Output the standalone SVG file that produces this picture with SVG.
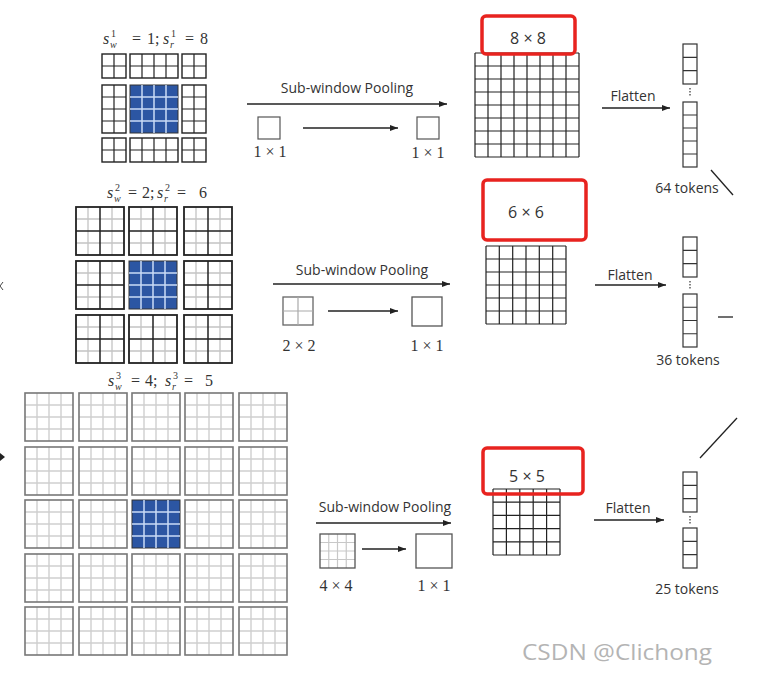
<svg xmlns="http://www.w3.org/2000/svg" xmlns:xlink="http://www.w3.org/1999/xlink" width="782" height="685" viewBox="0 0 782 685">
<style>
.sans{font-family:"Open Sans","Liberation Sans",sans-serif;fill:#333}
.ser{font-family:"Liberation Serif","DejaVu Serif",serif;fill:#333}
.it{font-style:italic}
.bk{fill:#fff;stroke:#222;stroke-width:1.4}
.gl{fill:none;stroke:#222;stroke-width:1.2}
.ln{fill:none;stroke:#222;stroke-width:1.3}
.red{fill:none;stroke:#e8231f;stroke-width:3.5}
.tok{fill:#fff;stroke:#333;stroke-width:1.2}
</style>
<defs>
<marker id="ah" markerUnits="userSpaceOnUse" markerWidth="8" markerHeight="6" refX="8" refY="3" orient="auto"><path d="M0 0L8 3L0 6z" fill="#222"/></marker>
<g id="c22"><rect class="bk" width="24" height="24"/><path class="gl" d="M12 0V24M0 12H24"/></g>
<g id="c42"><rect class="bk" width="48" height="24"/><path class="gl" d="M12 0V24M24 0V24M36 0V24M0 12H48"/></g>
<g id="c24"><rect class="bk" width="24" height="48"/><path class="gl" d="M12 0V48M0 12H24M0 24H24M0 36H24"/></g>
<g id="blue"><rect width="48" height="48" fill="#2c56a3" stroke="#333" stroke-width="1"/><path d="M12 0V48M24 0V48M36 0V48M0 12H48M0 24H48M0 36H48" stroke="#c9dbf7" stroke-width="1.5"/></g>
<g id="b2"><rect width="48" height="48" fill="#fff"/><path d="M12 0V48M36 0V48M0 12H48M0 36H48" stroke="#c4c4c4" stroke-width="1.3"/><path d="M24 0V48M0 24H48" stroke="#222" stroke-width="1.5"/><rect width="48" height="48" fill="none" stroke="#222" stroke-width="1.8"/></g>
<g id="b3"><rect width="48" height="48" fill="#fff"/><path d="M12 0V48M24 0V48M36 0V48M0 12H48M0 24H48M0 36H48" stroke="#cfcfcf" stroke-width="1.4"/><rect width="48" height="48" fill="none" stroke="#777" stroke-width="1.6"/></g>
</defs>

<!-- Row 1 input grid -->
<g id="grid1">
<text class="ser" font-size="16" y="44"><tspan x="103" class="it">s</tspan><tspan x="110" y="48" class="it" font-size="10">w</tspan><tspan x="111" y="37" font-size="10">1</tspan><tspan x="132" y="44">=</tspan><tspan x="147" y="44">1;</tspan><tspan x="163" y="44" class="it">s</tspan><tspan x="170" y="48" class="it" font-size="10">r</tspan><tspan x="171" y="37" font-size="10">1</tspan><tspan x="185" y="44">=</tspan><tspan x="200" y="44">8</tspan></text>
<use xlink:href="#c22" x="102" y="54"/><use xlink:href="#c42" x="130" y="54"/><use xlink:href="#c22" x="182" y="54"/>
<use xlink:href="#c24" x="102" y="85"/><use xlink:href="#blue" x="130" y="85"/><use xlink:href="#c24" x="182" y="85"/>
<use xlink:href="#c22" x="102" y="138"/><use xlink:href="#c42" x="130" y="138"/><use xlink:href="#c22" x="182" y="138"/>
</g>

<!-- Row 2 input grid -->
<g id="grid2">
<text class="ser" font-size="16" y="198"><tspan x="107" class="it">s</tspan><tspan x="114" y="202" class="it" font-size="10">w</tspan><tspan x="115" y="191" font-size="10">2</tspan><tspan x="128" y="198">=</tspan><tspan x="142" y="198">2;</tspan><tspan x="157" y="198" class="it">s</tspan><tspan x="164" y="202" class="it" font-size="10">r</tspan><tspan x="165" y="191" font-size="10">2</tspan><tspan x="177" y="198">=</tspan><tspan x="199" y="198">6</tspan></text>
<use xlink:href="#b2" x="76" y="207"/><use xlink:href="#b2" x="129" y="207"/><use xlink:href="#b2" x="184" y="207"/>
<use xlink:href="#b2" x="76" y="261"/><use xlink:href="#blue" x="129" y="261"/><use xlink:href="#b2" x="184" y="261"/>
<use xlink:href="#b2" x="76" y="315"/><use xlink:href="#b2" x="129" y="315"/><use xlink:href="#b2" x="184" y="315"/>
</g>

<!-- Row 3 input grid -->
<g id="grid3">
<text class="ser" font-size="16" y="386"><tspan x="108" class="it">s</tspan><tspan x="115" y="390" class="it" font-size="10">w</tspan><tspan x="116" y="379" font-size="10">3</tspan><tspan x="131" y="386">=</tspan><tspan x="145" y="386">4;</tspan><tspan x="165" y="386" class="it">s</tspan><tspan x="172" y="390" class="it" font-size="10">r</tspan><tspan x="173" y="379" font-size="10">3</tspan><tspan x="184" y="386">=</tspan><tspan x="205" y="386">5</tspan></text>
<use xlink:href="#b3" x="25" y="393"/><use xlink:href="#b3" x="79" y="393"/><use xlink:href="#b3" x="132" y="393"/><use xlink:href="#b3" x="185" y="393"/><use xlink:href="#b3" x="239" y="393"/>
<use xlink:href="#b3" x="25" y="447"/><use xlink:href="#b3" x="79" y="447"/><use xlink:href="#b3" x="132" y="447"/><use xlink:href="#b3" x="185" y="447"/><use xlink:href="#b3" x="239" y="447"/>
<use xlink:href="#b3" x="25" y="500"/><use xlink:href="#b3" x="79" y="500"/><use xlink:href="#blue" x="132" y="500"/><use xlink:href="#b3" x="185" y="500"/><use xlink:href="#b3" x="239" y="500"/>
<use xlink:href="#b3" x="25" y="554"/><use xlink:href="#b3" x="79" y="554"/><use xlink:href="#b3" x="132" y="554"/><use xlink:href="#b3" x="185" y="554"/><use xlink:href="#b3" x="239" y="554"/>
<use xlink:href="#b3" x="25" y="607"/><use xlink:href="#b3" x="79" y="607"/><use xlink:href="#b3" x="132" y="607"/><use xlink:href="#b3" x="185" y="607"/><use xlink:href="#b3" x="239" y="607"/>
</g>

<!-- Pooling legends -->
<g id="pool1">
<text class="sans" font-size="14" x="347" y="93" text-anchor="middle">Sub-window Pooling</text>
<rect x="258" y="117" width="22" height="22" fill="#fff" stroke="#555" stroke-width="1.2"/>
<rect x="417" y="117" width="22" height="22" fill="#fff" stroke="#555" stroke-width="1.2"/>
<text class="ser" font-size="16" x="270" y="157" text-anchor="middle">1 × 1</text>
<text class="ser" font-size="16" x="428" y="158" text-anchor="middle">1 × 1</text>
</g>
<g id="pool2">
<text class="sans" font-size="14" x="362" y="275" text-anchor="middle">Sub-window Pooling</text>
<rect x="283" y="297" width="30" height="28" fill="#fff" stroke="#666" stroke-width="1.3"/>
<path d="M298 297V325M283 311H313" stroke="#aaa" stroke-width="1.2"/>
<rect x="412" y="297" width="30" height="29" fill="#fff" stroke="#555" stroke-width="1.3"/>
<text class="ser" font-size="16" x="299" y="351" text-anchor="middle">2 × 2</text>
<text class="ser" font-size="16" x="427" y="351" text-anchor="middle">1 × 1</text>
</g>
<g id="pool3">
<text class="sans" font-size="14" x="385" y="512" text-anchor="middle">Sub-window Pooling</text>
<rect x="320" y="534" width="35" height="34" fill="#fff"/>
<path d="M328.75 534V568M337.5 534V568M346.25 534V568M320 542.5H355M320 551H355M320 559.5H355" stroke="#c8c8c8" stroke-width="1.2"/>
<rect x="320" y="534" width="35" height="34" fill="none" stroke="#555" stroke-width="1.3"/>
<rect x="416" y="534" width="36" height="34" fill="#fff" stroke="#555" stroke-width="1.3"/>
<text class="ser" font-size="16" x="336" y="591" text-anchor="middle">4 × 4</text>
<text class="ser" font-size="16" x="434" y="591" text-anchor="middle">1 × 1</text>
</g>

<!-- Pooled outputs -->
<g id="out8">
<rect x="475" y="53" width="104" height="104" fill="#fff"/>
<path class="gl" d="M475 53V157M488 53V157M501 53V157M514 53V157M527 53V157M540 53V157M553 53V157M566 53V157M579 53V157M475 53H579M475 66H579M475 79H579M475 92H579M475 105H579M475 118H579M475 131H579M475 144H579M475 157H579"/>
<rect class="red" x="482" y="16" width="93" height="38" rx="4"/>
<text class="sans" font-size="16" x="528" y="44" text-anchor="middle">8 × 8</text>
</g>
<g id="out6">
<path class="gl" d="M486 246V324M499.3 246V324M512.7 246V324M526 246V324M539.3 246V324M552.7 246V324M566 246V324M486 246H566M486 259H566M486 272H566M486 285H566M486 298H566M486 311H566M486 324H566"/>
<rect class="red" x="483" y="180" width="103" height="60" rx="4"/>
<text class="sans" font-size="16" x="526" y="218" text-anchor="middle">6 × 6</text>
</g>
<g id="out5">
<path class="gl" d="M493 489V555M506.4 489V555M519.8 489V555M533.2 489V555M546.6 489V555M560 489V555M493 489H560M493 502.2H560M493 515.4H560M493 528.6H560M493 541.8H560M493 555H560"/>
<rect class="red" x="483" y="448" width="100" height="46" rx="4"/>
<text class="sans" font-size="16" x="527" y="482" text-anchor="middle">5 × 5</text>
</g>

<!-- Token columns -->
<g id="tok64">
<rect class="tok" x="683" y="44" width="14" height="40"/><path class="tok" d="M683 57.3H697M683 70.7H697"/>
<path d="M690 88V97" stroke="#333" stroke-width="1.2" stroke-dasharray="1.5 1.5"/>
<rect class="tok" x="683" y="102" width="14" height="65"/><path class="tok" d="M683 115H697M683 128H697M683 141H697M683 154H697"/>
<text class="sans" font-size="14" x="687" y="193" text-anchor="middle">64 tokens</text>
</g>
<g id="tok36">
<rect class="tok" x="683" y="237" width="14" height="40"/><path class="tok" d="M683 250.3H697M683 263.7H697"/>
<path d="M690 281V290" stroke="#333" stroke-width="1.2" stroke-dasharray="1.5 1.5"/>
<rect class="tok" x="683" y="294" width="14" height="53"/><path class="tok" d="M683 307.25H697M683 320.5H697M683 333.75H697"/>
<text class="sans" font-size="14" x="688" y="365" text-anchor="middle">36 tokens</text>
</g>
<g id="tok25">
<rect class="tok" x="683" y="472" width="14" height="40"/><path class="tok" d="M683 485.3H697M683 498.7H697"/>
<path d="M690 516V525" stroke="#333" stroke-width="1.2" stroke-dasharray="1.5 1.5"/>
<rect class="tok" x="683" y="528" width="14" height="40"/><path class="tok" d="M683 541.3H697M683 554.7H697"/>
<text class="sans" font-size="14" x="687" y="594" text-anchor="middle">25 tokens</text>
</g>

<!-- Flatten labels -->
<g id="flat">
<text class="sans" font-size="14" x="633" y="101" text-anchor="middle">Flatten</text>
<text class="sans" font-size="14" x="630" y="280" text-anchor="middle">Flatten</text>
<text class="sans" font-size="14" x="628" y="513" text-anchor="middle">Flatten</text>
</g>

<!-- Connectors -->
<g id="connectors">
<line class="ln" x1="247" y1="104" x2="447" y2="104" marker-end="url(#ah)"/>
<line class="ln" x1="303" y1="128" x2="398" y2="128" marker-end="url(#ah)"/>
<line class="ln" x1="273" y1="284" x2="450" y2="284" marker-end="url(#ah)"/>
<line class="ln" x1="328" y1="311" x2="398" y2="311" marker-end="url(#ah)"/>
<line class="ln" x1="316" y1="523" x2="451" y2="523" marker-end="url(#ah)"/>
<line class="ln" x1="362" y1="549" x2="406" y2="549" marker-end="url(#ah)"/>
<line class="ln" x1="602" y1="108" x2="670" y2="108" marker-end="url(#ah)"/>
<line class="ln" x1="595" y1="285" x2="666" y2="285" marker-end="url(#ah)"/>
<line class="ln" x1="594" y1="520" x2="664" y2="520" marker-end="url(#ah)"/>
<line class="ln" x1="711" y1="170" x2="733" y2="195"/>
<line class="ln" x1="718" y1="317" x2="733" y2="317"/>
<line class="ln" x1="700" y1="458" x2="737" y2="418"/>
<path d="M0 453L5 457L0 461z" fill="#222"/>
<path d="M3 282L0 286L3 290" fill="none" stroke="#444" stroke-width="1"/>
</g>

<text class="sans" font-size="22" x="522" y="660" textLength="190" lengthAdjust="spacingAndGlyphs" style="fill:#b4b4b4">CSDN @Clichong</text>
</svg>
